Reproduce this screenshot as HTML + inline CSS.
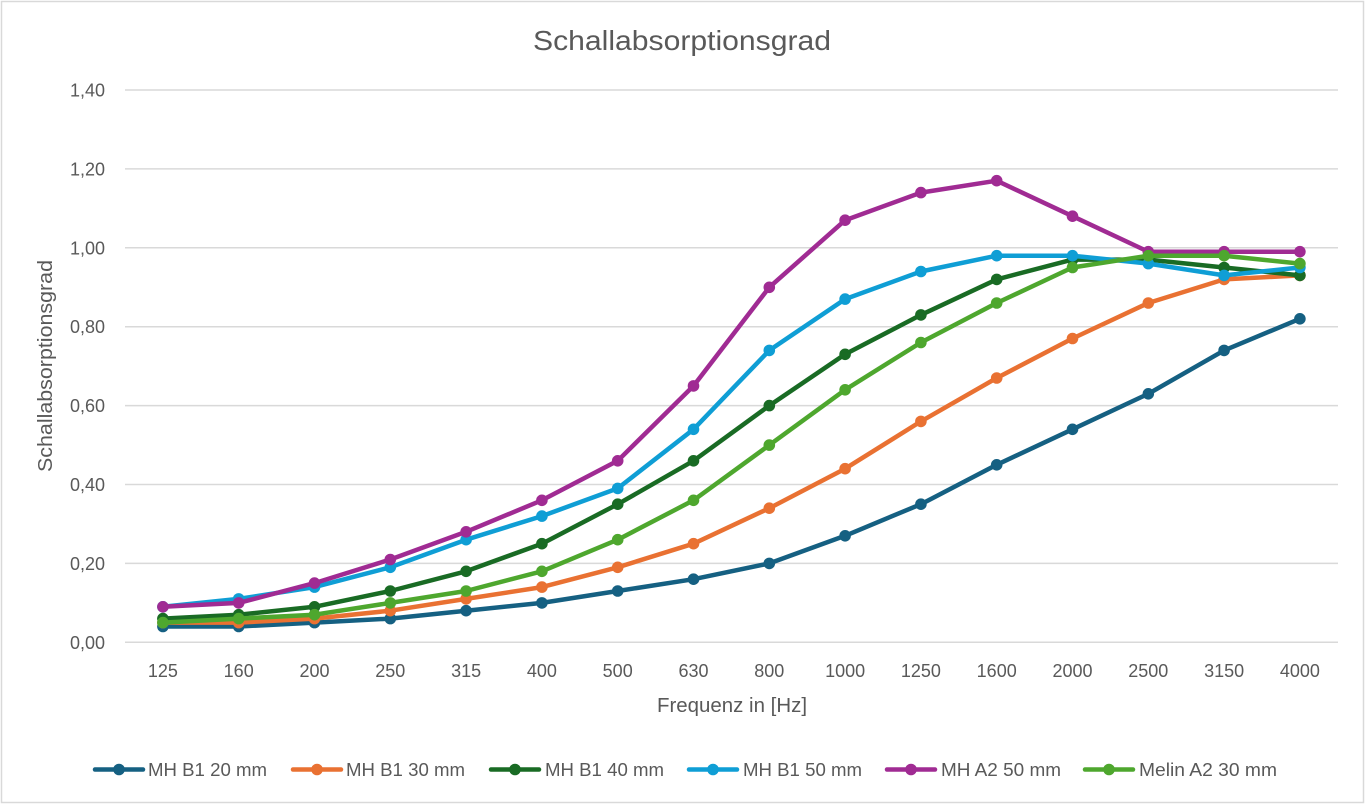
<!DOCTYPE html>
<html>
<head>
<meta charset="utf-8">
<style>
  html, body { margin: 0; padding: 0; background: #ffffff; }
  svg { display: block; }
  text { font-family: "Liberation Sans", "DejaVu Sans", sans-serif; fill: #595959; }
</style>
</head>
<body>
<svg width="1366" height="805" viewBox="0 0 1366 805" xmlns="http://www.w3.org/2000/svg">
  <rect x="0" y="0" width="1366" height="805" fill="#ffffff"/>
  <rect x="1.5" y="1.5" width="1362" height="801" fill="#ffffff" stroke="#d9d9d9" stroke-width="1.5"/>

  <!-- Title -->
  <text x="682" y="50" font-size="28" text-anchor="middle" textLength="298" lengthAdjust="spacingAndGlyphs">Schallabsorptionsgrad</text>

  <!-- Gridlines -->
  <g stroke="#d9d9d9" stroke-width="1.5">
    <line x1="125" y1="90" x2="1338" y2="90"/>
    <line x1="125" y1="168.9" x2="1338" y2="168.9"/>
    <line x1="125" y1="247.8" x2="1338" y2="247.8"/>
    <line x1="125" y1="326.7" x2="1338" y2="326.7"/>
    <line x1="125" y1="405.6" x2="1338" y2="405.6"/>
    <line x1="125" y1="484.5" x2="1338" y2="484.5"/>
    <line x1="125" y1="563.4" x2="1338" y2="563.4"/>
    <line x1="125" y1="642.3" x2="1338" y2="642.3"/>
  </g>

  <!-- Y tick labels -->
  <g font-size="18" text-anchor="end">
    <text x="105" y="96.5">1,40</text>
    <text x="105" y="175.4">1,20</text>
    <text x="105" y="254.3">1,00</text>
    <text x="105" y="333.2">0,80</text>
    <text x="105" y="412.1">0,60</text>
    <text x="105" y="491">0,40</text>
    <text x="105" y="569.9">0,20</text>
    <text x="105" y="648.8">0,00</text>
  </g>

  <!-- X tick labels -->
  <g font-size="18" text-anchor="middle">
    <text x="162.9" y="677">125</text>
    <text x="238.7" y="677">160</text>
    <text x="314.5" y="677">200</text>
    <text x="390.3" y="677">250</text>
    <text x="466.1" y="677">315</text>
    <text x="541.9" y="677">400</text>
    <text x="617.7" y="677">500</text>
    <text x="693.5" y="677">630</text>
    <text x="769.3" y="677">800</text>
    <text x="845.1" y="677">1000</text>
    <text x="920.9" y="677">1250</text>
    <text x="996.7" y="677">1600</text>
    <text x="1072.5" y="677">2000</text>
    <text x="1148.3" y="677">2500</text>
    <text x="1224.1" y="677">3150</text>
    <text x="1299.9" y="677">4000</text>
  </g>

  <!-- Axis titles -->
  <text x="732" y="712" font-size="20" text-anchor="middle" textLength="150" lengthAdjust="spacingAndGlyphs">Frequenz in [Hz]</text>
  <text transform="translate(52,366) rotate(-90)" x="0" y="0" font-size="20" text-anchor="middle" textLength="212" lengthAdjust="spacingAndGlyphs">Schallabsorptionsgrad</text>

  <!-- Series 1: MH B1 20 mm -->
  <g>
    <polyline fill="none" stroke="#156082" stroke-width="4.5" stroke-linejoin="round" stroke-linecap="round"
      points="162.9,626.5 238.7,626.5 314.5,622.6 390.3,618.6 466.1,610.7 541.9,602.9 617.7,591.0 693.5,579.2 769.3,563.4 845.1,535.8 920.9,504.2 996.7,464.8 1072.5,429.3 1148.3,393.8 1224.1,350.4 1299.9,318.8"/>
    <g fill="#156082">
      <circle cx="162.9" cy="626.5" r="5.8"/><circle cx="238.7" cy="626.5" r="5.8"/><circle cx="314.5" cy="622.6" r="5.8"/><circle cx="390.3" cy="618.6" r="5.8"/>
      <circle cx="466.1" cy="610.7" r="5.8"/><circle cx="541.9" cy="602.9" r="5.8"/><circle cx="617.7" cy="591.0" r="5.8"/><circle cx="693.5" cy="579.2" r="5.8"/>
      <circle cx="769.3" cy="563.4" r="5.8"/><circle cx="845.1" cy="535.8" r="5.8"/><circle cx="920.9" cy="504.2" r="5.8"/><circle cx="996.7" cy="464.8" r="5.8"/>
      <circle cx="1072.5" cy="429.3" r="5.8"/><circle cx="1148.3" cy="393.8" r="5.8"/><circle cx="1224.1" cy="350.4" r="5.8"/><circle cx="1299.9" cy="318.8" r="5.8"/>
    </g>
  </g>

  <!-- Series 2: MH B1 30 mm -->
  <g>
    <polyline fill="none" stroke="#E97132" stroke-width="4.5" stroke-linejoin="round" stroke-linecap="round"
      points="162.9,622.6 238.7,622.6 314.5,618.6 390.3,610.7 466.1,598.9 541.9,587.1 617.7,567.3 693.5,543.7 769.3,508.2 845.1,468.7 920.9,421.4 996.7,378.0 1072.5,338.5 1148.3,303.0 1224.1,279.4 1299.9,275.4"/>
    <g fill="#E97132">
      <circle cx="162.9" cy="622.6" r="5.8"/><circle cx="238.7" cy="622.6" r="5.8"/><circle cx="314.5" cy="618.6" r="5.8"/><circle cx="390.3" cy="610.7" r="5.8"/>
      <circle cx="466.1" cy="598.9" r="5.8"/><circle cx="541.9" cy="587.1" r="5.8"/><circle cx="617.7" cy="567.3" r="5.8"/><circle cx="693.5" cy="543.7" r="5.8"/>
      <circle cx="769.3" cy="508.2" r="5.8"/><circle cx="845.1" cy="468.7" r="5.8"/><circle cx="920.9" cy="421.4" r="5.8"/><circle cx="996.7" cy="378.0" r="5.8"/>
      <circle cx="1072.5" cy="338.5" r="5.8"/><circle cx="1148.3" cy="303.0" r="5.8"/><circle cx="1224.1" cy="279.4" r="5.8"/><circle cx="1299.9" cy="275.4" r="5.8"/>
    </g>
  </g>

  <!-- Series 3: MH B1 40 mm -->
  <g>
    <polyline fill="none" stroke="#196B24" stroke-width="4.5" stroke-linejoin="round" stroke-linecap="round"
      points="162.9,618.6 238.7,614.7 314.5,606.8 390.3,591.0 466.1,571.3 541.9,543.7 617.7,504.2 693.5,460.8 769.3,405.6 845.1,354.3 920.9,314.9 996.7,279.4 1072.5,259.6 1148.3,259.6 1224.1,267.5 1299.9,275.4"/>
    <g fill="#196B24">
      <circle cx="162.9" cy="618.6" r="5.8"/><circle cx="238.7" cy="614.7" r="5.8"/><circle cx="314.5" cy="606.8" r="5.8"/><circle cx="390.3" cy="591.0" r="5.8"/>
      <circle cx="466.1" cy="571.3" r="5.8"/><circle cx="541.9" cy="543.7" r="5.8"/><circle cx="617.7" cy="504.2" r="5.8"/><circle cx="693.5" cy="460.8" r="5.8"/>
      <circle cx="769.3" cy="405.6" r="5.8"/><circle cx="845.1" cy="354.3" r="5.8"/><circle cx="920.9" cy="314.9" r="5.8"/><circle cx="996.7" cy="279.4" r="5.8"/>
      <circle cx="1072.5" cy="259.6" r="5.8"/><circle cx="1148.3" cy="259.6" r="5.8"/><circle cx="1224.1" cy="267.5" r="5.8"/><circle cx="1299.9" cy="275.4" r="5.8"/>
    </g>
  </g>

  <!-- Series 4: MH B1 50 mm -->
  <g>
    <polyline fill="none" stroke="#0F9ED5" stroke-width="4.5" stroke-linejoin="round" stroke-linecap="round"
      points="162.9,606.8 238.7,598.9 314.5,587.1 390.3,567.3 466.1,539.7 541.9,516.1 617.7,488.4 693.5,429.3 769.3,350.4 845.1,299.1 920.9,271.5 996.7,255.7 1072.5,255.7 1148.3,263.6 1224.1,275.4 1299.9,267.5"/>
    <g fill="#0F9ED5">
      <circle cx="162.9" cy="606.8" r="5.8"/><circle cx="238.7" cy="598.9" r="5.8"/><circle cx="314.5" cy="587.1" r="5.8"/><circle cx="390.3" cy="567.3" r="5.8"/>
      <circle cx="466.1" cy="539.7" r="5.8"/><circle cx="541.9" cy="516.1" r="5.8"/><circle cx="617.7" cy="488.4" r="5.8"/><circle cx="693.5" cy="429.3" r="5.8"/>
      <circle cx="769.3" cy="350.4" r="5.8"/><circle cx="845.1" cy="299.1" r="5.8"/><circle cx="920.9" cy="271.5" r="5.8"/><circle cx="996.7" cy="255.7" r="5.8"/>
      <circle cx="1072.5" cy="255.7" r="5.8"/><circle cx="1148.3" cy="263.6" r="5.8"/><circle cx="1224.1" cy="275.4" r="5.8"/><circle cx="1299.9" cy="267.5" r="5.8"/>
    </g>
  </g>

  <!-- Series 5: MH A2 50 mm -->
  <g>
    <polyline fill="none" stroke="#A02B93" stroke-width="4.5" stroke-linejoin="round" stroke-linecap="round"
      points="162.9,606.8 238.7,602.9 314.5,583.1 390.3,559.5 466.1,531.8 541.9,500.3 617.7,460.8 693.5,385.9 769.3,287.3 845.1,220.2 920.9,192.6 996.7,180.7 1072.5,216.2 1148.3,251.7 1224.1,251.7 1299.9,251.7"/>
    <g fill="#A02B93">
      <circle cx="162.9" cy="606.8" r="5.8"/><circle cx="238.7" cy="602.9" r="5.8"/><circle cx="314.5" cy="583.1" r="5.8"/><circle cx="390.3" cy="559.5" r="5.8"/>
      <circle cx="466.1" cy="531.8" r="5.8"/><circle cx="541.9" cy="500.3" r="5.8"/><circle cx="617.7" cy="460.8" r="5.8"/><circle cx="693.5" cy="385.9" r="5.8"/>
      <circle cx="769.3" cy="287.3" r="5.8"/><circle cx="845.1" cy="220.2" r="5.8"/><circle cx="920.9" cy="192.6" r="5.8"/><circle cx="996.7" cy="180.7" r="5.8"/>
      <circle cx="1072.5" cy="216.2" r="5.8"/><circle cx="1148.3" cy="251.7" r="5.8"/><circle cx="1224.1" cy="251.7" r="5.8"/><circle cx="1299.9" cy="251.7" r="5.8"/>
    </g>
  </g>

  <!-- Series 6: Melin A2 30 mm -->
  <g>
    <polyline fill="none" stroke="#4EA72E" stroke-width="4.5" stroke-linejoin="round" stroke-linecap="round"
      points="162.9,622.6 238.7,618.6 314.5,614.7 390.3,602.9 466.1,591.0 541.9,571.3 617.7,539.7 693.5,500.3 769.3,445.1 845.1,389.8 920.9,342.5 996.7,303.0 1072.5,267.5 1148.3,255.7 1224.1,255.7 1299.9,263.6"/>
    <g fill="#4EA72E">
      <circle cx="162.9" cy="622.6" r="5.8"/><circle cx="238.7" cy="618.6" r="5.8"/><circle cx="314.5" cy="614.7" r="5.8"/><circle cx="390.3" cy="602.9" r="5.8"/>
      <circle cx="466.1" cy="591.0" r="5.8"/><circle cx="541.9" cy="571.3" r="5.8"/><circle cx="617.7" cy="539.7" r="5.8"/><circle cx="693.5" cy="500.3" r="5.8"/>
      <circle cx="769.3" cy="445.1" r="5.8"/><circle cx="845.1" cy="389.8" r="5.8"/><circle cx="920.9" cy="342.5" r="5.8"/><circle cx="996.7" cy="303.0" r="5.8"/>
      <circle cx="1072.5" cy="267.5" r="5.8"/><circle cx="1148.3" cy="255.7" r="5.8"/><circle cx="1224.1" cy="255.7" r="5.8"/><circle cx="1299.9" cy="263.6" r="5.8"/>
    </g>
  </g>

  <!-- Legend -->
  <g font-size="18">
    <line x1="95" y1="769.5" x2="143" y2="769.5" stroke="#156082" stroke-width="4.5" stroke-linecap="round"/>
    <circle cx="119" cy="769.5" r="5.8" fill="#156082"/>
    <text x="148" y="776" textLength="119" lengthAdjust="spacingAndGlyphs">MH B1 20 mm</text>

    <line x1="293" y1="769.5" x2="341" y2="769.5" stroke="#E97132" stroke-width="4.5" stroke-linecap="round"/>
    <circle cx="317" cy="769.5" r="5.8" fill="#E97132"/>
    <text x="346" y="776" textLength="119" lengthAdjust="spacingAndGlyphs">MH B1 30 mm</text>

    <line x1="491" y1="769.5" x2="539" y2="769.5" stroke="#196B24" stroke-width="4.5" stroke-linecap="round"/>
    <circle cx="515" cy="769.5" r="5.8" fill="#196B24"/>
    <text x="545" y="776" textLength="119" lengthAdjust="spacingAndGlyphs">MH B1 40 mm</text>

    <line x1="689" y1="769.5" x2="737" y2="769.5" stroke="#0F9ED5" stroke-width="4.5" stroke-linecap="round"/>
    <circle cx="713" cy="769.5" r="5.8" fill="#0F9ED5"/>
    <text x="743" y="776" textLength="119" lengthAdjust="spacingAndGlyphs">MH B1 50 mm</text>

    <line x1="887" y1="769.5" x2="935" y2="769.5" stroke="#A02B93" stroke-width="4.5" stroke-linecap="round"/>
    <circle cx="911" cy="769.5" r="5.8" fill="#A02B93"/>
    <text x="941" y="776" textLength="120" lengthAdjust="spacingAndGlyphs">MH A2 50 mm</text>

    <line x1="1085" y1="769.5" x2="1133" y2="769.5" stroke="#4EA72E" stroke-width="4.5" stroke-linecap="round"/>
    <circle cx="1109" cy="769.5" r="5.8" fill="#4EA72E"/>
    <text x="1139" y="776" textLength="138" lengthAdjust="spacingAndGlyphs">Melin A2 30 mm</text>
  </g>
</svg>
</body>
</html>
